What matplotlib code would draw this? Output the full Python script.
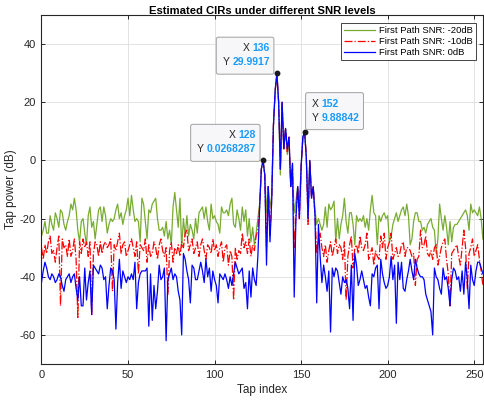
import numpy as np
import matplotlib
matplotlib.use("Agg")
import matplotlib.pyplot as plt
from matplotlib.patches import FancyBboxPatch
from matplotlib.transforms import IdentityTransform, Bbox

plt.rcParams['font.family'] = ['Liberation Sans', 'DejaVu Sans']
plt.rcParams['axes.unicode_minus'] = False

tap_index = np.arange(256)

# First Path SNR: -20dB (green)
snr_m20 = [
    -26, -24, -21, -25, -25, -19, -22, -24, -18, -20, -23, -17, -18, -22, -24, -21,
    -19, -15, -17, -13, -17, -24, -28, -21, -20, -25, -29, -19, -16, -23, -21, -27,
    -22, -17, -16, -21, -16, -19, -25, -22, -20, -21, -20, -17, -15, -20, -18, -22,
    -19, -17, -13, -19, -12, -17, -21, -20, -21, -28, -13, -15, -21, -27, -17, -18,
    -15, -14, -13, -20, -24, -24, -23, -26, -21, -27, -24, -29, -16, -11, -17, -23,
    -13, -30, -20, -26, -19, -26, -22, -24, -27, -20, -25, -18, -17, -16, -20, -16,
    -21, -24, -15, -20, -19, -21, -22, -25, -16, -18, -18, -17, -19, -15, -13, -22,
    -23, -17, -20, -24, -16, -21, -17, -26, -20, -28, -23, -29, -25, -20, -15, -3,
    0, -5, -18, -9, -16, -12, 12, 24, 30, 20, -5, 20, 4, 11, 2, 7,
    -9, -4, -18, -14, -9, -16, -2, 8, 10, 1, -15, 0, -12, -9, -17, -22,
    -20, -22, -24, -22, -16, -23, -15, -17, -16, -14, -28, -20, -27, -22, -19, -13,
    -21, -25, -18, -18, -22, -29, -19, -21, -20, -21, -19, -23, -20, -24, -17, -12,
    -18, -19, -29, -19, -21, -19, -18, -20, -19, -28, -26, -22, -20, -18, -21, -19,
    -17, -16, -19, -15, -19, -29, -27, -21, -18, -18, -21, -21, -24, -23, -25, -22,
    -21, -20, -23, -24, -32, -27, -15, -20, -24, -19, -23, -29, -21, -28, -23, -22,
    -22, -21, -20, -19, -18, -17, -19, -24, -15, -18, -17, -18, -19, -16, -20, -27,
]

# First Path SNR: -10dB (red, dash-dot)
snr_m10 = [
    -30, -34, -29, -32, -28, -26, -32, -31, -35, -30, -26, -50, -27, -30, -29, -33,
    -27, -33, -31, -27, -34, -54, -28, -32, -27, -30, -28, -33, -28, -53, -32, -28,
    -29, -33, -28, -32, -29, -28, -30, -29, -27, -45, -29, -31, -28, -25, -32, -29,
    -28, -33, -31, -29, -27, -30, -33, -28, -39, -29, -30, -31, -27, -35, -29, -33,
    -32, -28, -30, -34, -29, -27, -31, -33, -30, -46, -31, -28, -35, -30, -32, -29,
    -33, -28, -30, -25, -24, -31, -29, -27, -32, -30, -28, -33, -29, -27, -31, -34,
    -29, -30, -32, -27, -31, -29, -33, -30, -28, -35, -30, -29, -36, -31, -33, -48,
    -30, -34, -31, -32, -25, -30, -28, -32, -27, -33, -29, -31, -26, -24, -16, -3,
    0, -5, -30, -9, -26, -13, 12, 24, 30, 20, -3, 20, 4, 11, 3, 8,
    -9, -1, -30, -19, -9, -20, -2, 8, 10, 1, -22, 0, -13, -9, -19, -32,
    -27, -25, -30, -33, -29, -35, -31, -28, -33, -30, -27, -32, -29, -30, -34, -28,
    -48, -33, -29, -26, -37, -30, -29, -32, -26, -30, -31, -29, -25, -34, -32, -30,
    -36, -31, -33, -34, -26, -30, -25, -34, -30, -28, -25, -34, -32, -30, -33, -32,
    -29, -28, -33, -30, -30, -31, -33, -32, -43, -34, -33, -24, -30, -29, -26, -32,
    -33, -31, -34, -30, -29, -36, -33, -30, -28, -27, -34, -39, -50, -32, -31, -30,
    -29, -33, -36, -30, -24, -30, -44, -32, -30, -27, -33, -31, -29, -34, -38, -43,
]

# First Path SNR: 0dB (blue)
snr_0 = [
    -42, -38, -35, -37, -40, -41, -39, -40, -42, -41, -39, -40, -43, -45, -41, -40,
    -39, -42, -40, -39, -44, -48, -40, -50, -50, -37, -48, -42, -38, -53, -36, -37,
    -38, -39, -36, -37, -41, -40, -51, -43, -37, -38, -41, -58, -42, -34, -44, -38,
    -40, -42, -40, -41, -39, -41, -35, -51, -42, -39, -38, -38, -38, -37, -57, -39,
    -55, -43, -51, -45, -36, -41, -40, -37, -62, -41, -39, -37, -41, -39, -40, -45,
    -48, -60, -32, -34, -38, -41, -49, -36, -37, -41, -41, -38, -35, -38, -42, -34,
    -40, -37, -45, -38, -41, -43, -49, -39, -40, -41, -39, -41, -44, -40, -43, -39,
    -35, -37, -39, -38, -37, -44, -42, -51, -38, -47, -37, -41, -43, -33, -17, -3,
    0.0268287, -5, -36, -9, -28, -14, 12, 24, 29.9917, 20, -3, 20, 4, 11, 4, 8,
    -9, -1, -47, -20, -9, -20, -2, 8, 9.88842, 1, -20, 0, -13, -9, -19, -49,
    -22, -33, -42, -36, -40, -45, -38, -59, -37, -40, -37, -38, -42, -46, -40, -42,
    -41, -44, -51, -36, -55, -32, -36, -43, -41, -38, -41, -44, -43, -47, -50, -39,
    -40, -37, -36, -51, -34, -39, -42, -44, -43, -40, -33, -41, -36, -56, -35, -41,
    -35, -44, -45, -41, -38, -34, -38, -41, -34, -37, -39, -40, -40, -41, -46, -48,
    -50, -52, -60, -37, -40, -41, -44, -46, -37, -41, -40, -44, -50, -41, -37, -38,
    -41, -40, -45, -38, -46, -35, -41, -51, -36, -41, -43, -38, -35, -35, -37, -39,
]

labels = ["First Path SNR: -20dB", "First Path SNR: -10dB", "First Path SNR: 0dB"]
tip_taps = [136, 128, 152]
tip_sides = ["right", "right", "left"]

dark = '#262626'
fig = plt.figure(figsize=(4.84, 4.0), dpi=100)
ax = fig.add_axes([0.0857, 0.09, 0.912, 0.8725])

ax.plot(tap_index, snr_m20, color='#77AC30', lw=0.9, label=labels[0])
ax.plot(tap_index, snr_m10, color='#FF0000', lw=0.9, ls='-.', label=labels[1])
ax.plot(tap_index, snr_0, color='#0000FF', lw=0.9, label=labels[2])

ax.set_xlim(0, 255)
ax.set_ylim(-70, 50)
ax.set_xticks(range(0, 251, 50))
ax.set_yticks(range(-60, 41, 20))
ax.grid(True, color='#DEDEDE', lw=0.6)
ax.set_axisbelow(True)
ax.tick_params(direction='in', top=True, right=True, length=3, width=0.7,
               labelsize=8, colors=dark, pad=4)
for s in ax.spines.values():
    s.set_color(dark)
    s.set_linewidth(0.8)
ax.set_xlabel('Tap index', fontsize=8.5, color=dark, labelpad=3)
ax.set_ylabel('Tap power (dB)', fontsize=8.5, color=dark)
ax.yaxis.set_label_coords(-0.056, 0.5)
ax.set_title('Estimated CIRs under different SNR levels', fontsize=8.1,
             fontweight='bold', pad=1)

leg = ax.legend(loc='upper right', bbox_to_anchor=(476 / 484, 377 / 400),
                bbox_transform=fig.transFigure, borderaxespad=0,
                fontsize=6.8, fancybox=False, edgecolor=dark, framealpha=1,
                handlelength=3.3, handletextpad=0.4, labelspacing=0.2, borderpad=0.35)
leg.get_frame().set_linewidth(0.6)

snr_0 = np.array(snr_0)
tip_texts = []
for tap, side in zip(tip_taps, tip_sides):
    x, y = tap, snr_0[tap]
    ax.plot(x, y, 'o', ms=3.2, color='#1a1a1a', zorder=6)
    texts = []
    for lab, val, dy in (('X', f'{x}', 25), ('Y', f'{y:g}', 11)):
        kw = dict(textcoords='offset pixels', va='center', fontsize=7.5, zorder=9)
        if side == 'right':
            v = ax.annotate(val, (x, y), xytext=(-7, dy), ha='right',
                            color='#1A9BFF', fontweight='bold', **kw)
            l = ax.annotate(lab, (0, 0.5), xycoords=v, xytext=(-3, 0), ha='right',
                            color=dark, **kw)
        else:
            l = ax.annotate(lab, (x, y), xytext=(7, dy + 3), ha='left',
                            color=dark, **kw)
            v = ax.annotate(val, (1, 0.5), xycoords=l, xytext=(3, 0), ha='left',
                            color='#1A9BFF', fontweight='bold', **kw)
        texts += [l, v]
    tip_texts.append(texts)

fig.canvas.draw()
renderer = fig.canvas.get_renderer()
for texts in tip_texts:
    bb = Bbox.union([t.get_window_extent(renderer) for t in texts])
    box = FancyBboxPatch((bb.x0 - 6, bb.y0 - 7), bb.width + 10, bb.height + 13,
                         boxstyle='round,pad=0,rounding_size=2',
                         transform=IdentityTransform(), fc='#F7F7FA', ec='#A0A0A0',
                         lw=0.7, zorder=8, clip_on=False)
    ax.add_patch(box)

fig.savefig('out.png', dpi=100)
